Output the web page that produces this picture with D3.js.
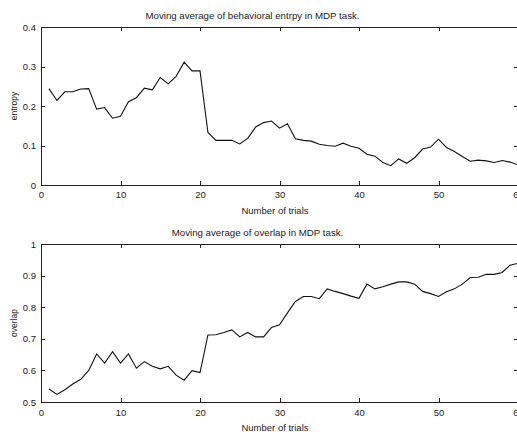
<!DOCTYPE html>
<html>
<head>
<meta charset="utf-8">
<script src="https://cdn.jsdelivr.net/npm/d3@7"></script>
<style>
  body { margin: 0; background: #fff; }
  svg text { font-family: "Liberation Sans", Arial, sans-serif; fill: #222; }
  .axis path, .axis line { stroke: #222; shape-rendering: crispEdges; }
</style>
</head>
<body>
<script>

/* Data */

var trials = d3.range(1, 61);

var entropy = [0.244, 0.214, 0.236, 0.236, 0.243, 0.244, 0.192, 0.196, 0.169, 0.174,
               0.211, 0.221, 0.245, 0.241, 0.272, 0.256, 0.275, 0.311, 0.289, 0.289,
               0.133, 0.113, 0.113, 0.113, 0.104, 0.118, 0.147, 0.158, 0.162, 0.144,
               0.155, 0.117, 0.113, 0.111, 0.103, 0.100, 0.098, 0.106, 0.098, 0.093,
               0.078, 0.073, 0.057, 0.049, 0.066, 0.055, 0.069, 0.091, 0.096, 0.116,
               0.095, 0.085, 0.072, 0.060, 0.063, 0.061, 0.057, 0.062, 0.058, 0.051];

var overlap = [0.541, 0.524, 0.539, 0.557, 0.572, 0.600, 0.652, 0.623, 0.659, 0.623,
               0.652, 0.607, 0.628, 0.613, 0.605, 0.613, 0.585, 0.569, 0.599, 0.593,
               0.712, 0.713, 0.720, 0.728, 0.706, 0.720, 0.706, 0.706, 0.736, 0.744,
               0.782, 0.818, 0.834, 0.834, 0.827, 0.858, 0.850, 0.843, 0.835, 0.828,
               0.873, 0.858, 0.865, 0.873, 0.880, 0.880, 0.873, 0.850, 0.843, 0.834,
               0.849, 0.858, 0.873, 0.894, 0.895, 0.904, 0.904, 0.910, 0.933, 0.939];

var trialTicks = [0, 10, 20, 30, 40, 50, 60];
var entropyTicks = [0, 0.1, 0.2, 0.3, 0.4];
var overlapTicks = [0.5, 0.6, 0.7, 0.8, 0.9, 1];

var titles = ["Moving average of behavioral entrpy in MDP task.",
              "Moving average of overlap in MDP task."];
var yLabels = ["entropy", "overlap"];
var xLabel = "Number of trials";


/* Chart */

var svg = d3.select("body")
    .append("svg")
    .attr("width", 517)
    .attr("height", 432);

var x = d3.scaleLinear().domain([0, 60]).range([41, 518]);
var fmt = d3.format("~g");

function panel(values, yDomain, yTicks, top, bottom, opts) {
    var y = d3.scaleLinear().domain(yDomain).range([bottom, top]);
    var g = svg.append("g");

    g.append("g").attr("class", "axis")
        .attr("transform", "translate(0," + bottom + ")")
        .call(d3.axisBottom(x).tickValues(trialTicks).tickFormat(fmt)
              .tickSizeInner(-4).tickSizeOuter(0).tickPadding(opts.xPad));

    g.append("g").attr("class", "axis")
        .attr("transform", "translate(0," + top + ")")
        .call(d3.axisTop(x).tickValues(trialTicks).tickFormat("")
              .tickSizeInner(-4).tickSizeOuter(0));

    g.append("g").attr("class", "axis")
        .attr("transform", "translate(" + x(0) + ",0)")
        .call(d3.axisLeft(y).tickValues(yTicks).tickFormat(fmt)
              .tickSizeInner(-4).tickSizeOuter(0).tickPadding(5));

    g.append("g").attr("class", "axis")
        .attr("transform", "translate(" + x(60) + ",0)")
        .call(d3.axisRight(y).tickValues(yTicks).tickFormat("")
              .tickSizeInner(-4).tickSizeOuter(0));

    g.selectAll(".axis text")
        .attr("font-size", 9.5)
        .attr("fill", "#222")
        .style("font-family", "Liberation Sans, Arial, sans-serif");

    var line = d3.line()
        .x(function(d, i) { return x(trials[i]); })
        .y(function(d) { return y(d); });

    g.append("path")
        .datum(values)
        .attr("d", line)
        .attr("fill", "none")
        .attr("stroke", "#111")
        .attr("stroke-width", 1.1);

    g.append("text")
        .attr("x", opts.titleX)
        .attr("y", top - 8.5)
        .attr("text-anchor", "middle")
        .attr("font-size", 9.7)
        .text(opts.title);

    g.append("text")
        .attr("x", 275)
        .attr("y", bottom + 28.5)
        .attr("text-anchor", "middle")
        .attr("font-size", 9.5)
        .text(xLabel);

    g.append("text")
        .attr("transform", "translate(16.5," + (top + bottom) / 2 + ") rotate(-90)")
        .attr("text-anchor", "middle")
        .attr("font-size", 8.5)
        .text(opts.yLabel);
}

panel(entropy, [0, 0.4], entropyTicks, 27, 185,
      { title: titles[0], yLabel: yLabels[0], titleX: 252.5, xPad: 6.5 });
panel(overlap, [0.5, 1], overlapTicks, 244, 402,
      { title: titles[1], yLabel: yLabels[1], titleX: 257.5, xPad: 7 });

</script>
</body>
</html>
